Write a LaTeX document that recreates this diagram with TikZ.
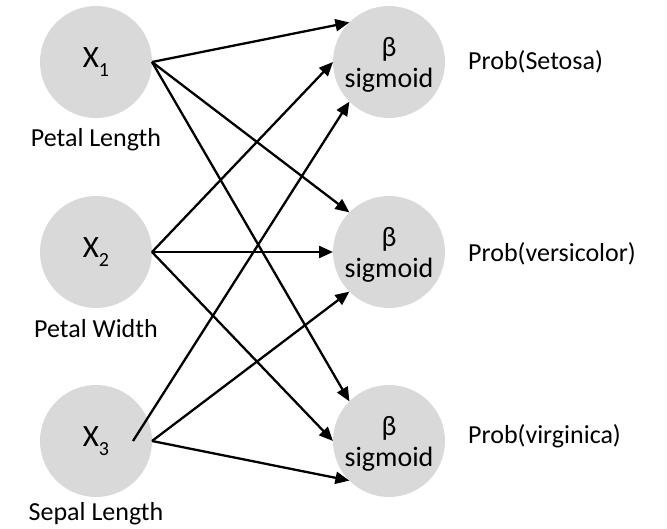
\documentclass[tikz,border=0pt]{standalone}
\usepackage{fontspec}
\setmainfont{Carlito}
\usetikzlibrary{arrows.meta,calc}
\newcommand{\lowsub}[1]{\raisebox{-9pt}{\fontsize{20}{20}\selectfont #1}}
\begin{document}
\begin{tikzpicture}[x=1pt,y=-1pt,
  unit/.style={circle, fill=black!15, draw=none, minimum size=112pt, inner sep=0pt, outer sep=0pt},
  caption/.style={font=\fontsize{26}{28}\selectfont, inner sep=0pt},
  neuron/.style={unit, label={[font=\fontsize{28}{31}\selectfont, align=center, inner sep=0pt, yshift=-3pt]center:β\\sigmoid}},
  link/.style={line width=2.3pt, -{Triangle[length=14pt,width=12pt]}}
]
\useasboundingbox (0,0) rectangle (667,528);

% input units
\node[unit, font=\fontsize{31}{32}\selectfont] (x1) at (96,62)  {X\lowsub{1}};
\node[unit, font=\fontsize{31}{32}\selectfont] (x2) at (96,252) {X\lowsub{2}};
\node[unit, font=\fontsize{31}{32}\selectfont] (x3) at (96,441) {X\lowsub{3}};

\node[caption] (l1) at (96,140) {Petal Length};
\node[caption] (l2) at (96,329) {Petal Width};
\node[caption] (l3) at (96,514) {Sepal Length};

% output units
\node[neuron] (o1) at (389,62)  {};
\node[neuron] (o2) at (389,252) {};
\node[neuron] (o3) at (389,441) {};

\node[caption, anchor=west] (p1) at (468,62)  {Prob(Setosa)};
\node[caption, anchor=west] (p2) at (468,254) {Prob(versicolor)};
\node[caption, anchor=west] (p3) at (468,436) {Prob(virginica)};

\coordinate (x3in) at ($(x3.center)+(37,0)$);

% connections
\draw[link] (x1.east) -- (o1.135);
\draw[link] (x1.east) -- (o2.135);
\draw[link] (x1.east) -- (o3.135);
\draw[link] (x2.east) -- (o1.180);
\draw[link] (x2.east) -- (o2.180);
\draw[link] (x2.east) -- (o3.180);
\draw[link] (x3in) -- (o1.225);
\draw[link] (x3.east) -- (o2.225);
\draw[link] (x3.east) -- (o3.225);
\end{tikzpicture}
\end{document}
